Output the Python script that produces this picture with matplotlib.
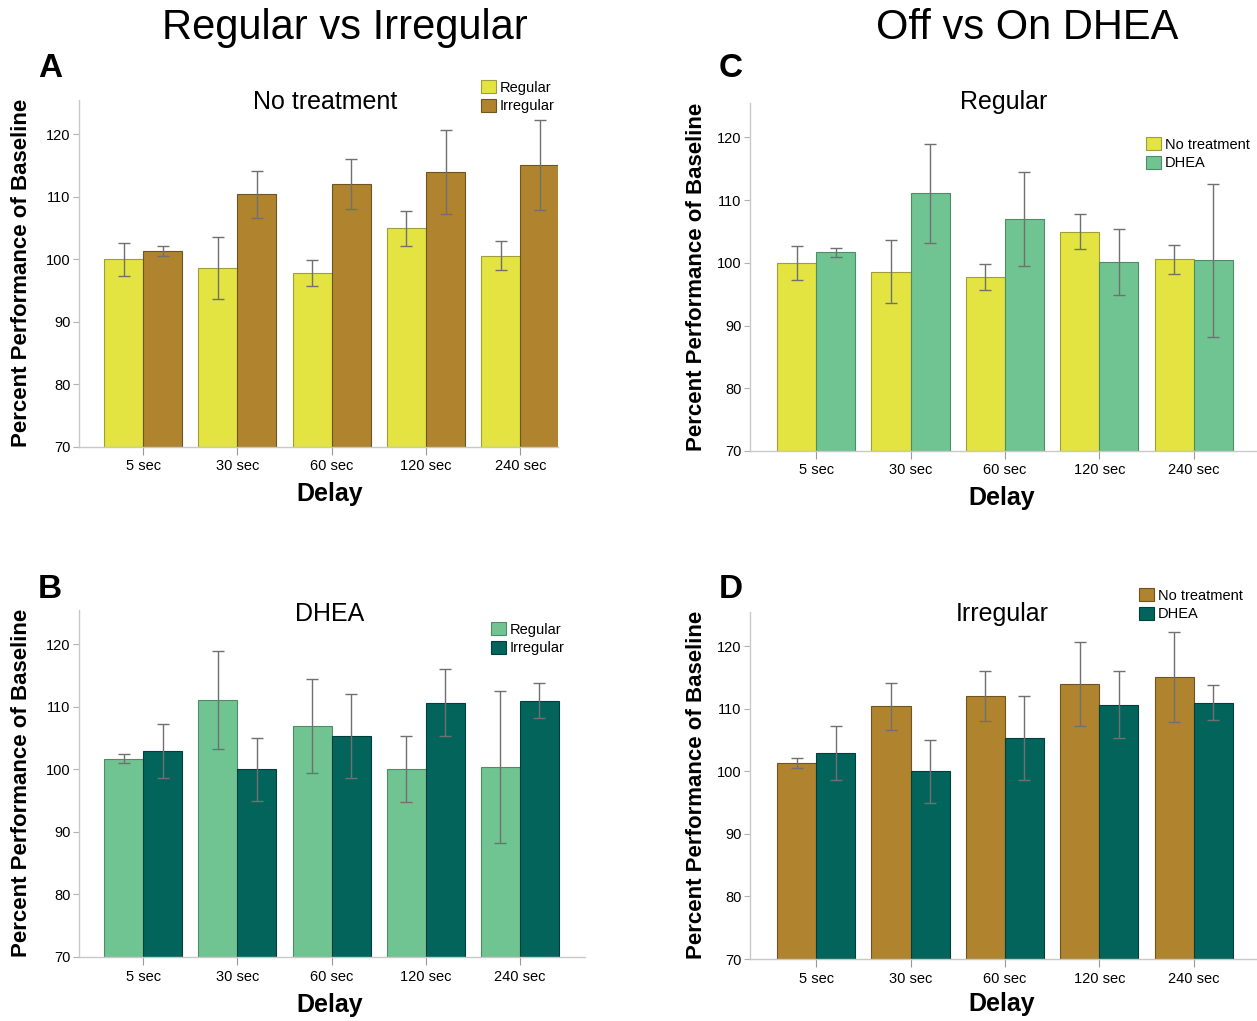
import numpy as np
import matplotlib
matplotlib.use("Agg")
import matplotlib.pyplot as plt

plt.rcParams['font.family'] = ['Liberation Sans', 'DejaVu Sans']

# Delay conditions
delays = ["5 sec", "30 sec", "60 sec", "120 sec", "240 sec"]

# Mean percent performance of baseline and error (SEM) per group
regular_none = [100.0, 98.6, 97.8, 105.0, 100.6]
regular_none_err = [2.7, 5.0, 2.1, 2.8, 2.3]
irregular_none = [101.3, 110.4, 112.0, 114.0, 115.1]
irregular_none_err = [0.8, 3.8, 4.0, 6.7, 7.2]
regular_dhea = [101.7, 111.1, 107.0, 100.1, 100.4]
regular_dhea_err = [0.7, 7.9, 7.5, 5.3, 12.2]
irregular_dhea = [102.9, 100.0, 105.4, 110.7, 111.0]
irregular_dhea_err = [4.3, 5.0, 6.7, 5.3, 2.8]

YELLOW = ("#E3E441", "#9E9E3A")
BROWN = ("#B0842E", "#6E5420")
LGREEN = ("#70C492", "#4E8C66")
TEAL = ("#03645C", "#023F3A")

W, H = 1257, 1021
fig = plt.figure(figsize=(W / 100, H / 100), dpi=100)


def fx(px):
    return px / W


def fy(py):
    return 1 - py / H


def panel(rect, xlim, s1, s2, names, colors, title, title_xy, legend_xy, letter, letter_xy,
          ylabel_xy, xlabel_xy):
    l, r, b, t = rect
    ax = fig.add_axes([fx(l), fy(b), fx(r) - fx(l), fy(t) - fy(b)])
    x = np.arange(len(delays))
    w = 0.414
    for k, ((vals, errs), name, (fc, ec)) in enumerate(zip((s1, s2), names, colors)):
        pos = x - w / 2 if k == 0 else x + w / 2
        ax.bar(pos, np.array(vals) - 70, w, bottom=70, color=fc, edgecolor=ec,
               linewidth=0.8, label=name, zorder=2)
        ax.errorbar(pos, vals, yerr=errs, fmt="none", ecolor="#707070",
                    elinewidth=1.0, capsize=4, capthick=1.0, zorder=3)
    ax.set_xlim(*xlim)
    ax.set_ylim(70, 125.5)
    ax.set_yticks([70, 80, 90, 100, 110, 120])
    ax.set_xticks(x)
    ax.set_xticklabels(delays, fontsize=10.5)
    ax.tick_params(axis="y", labelsize=10.5, length=4, width=0.8, color="#b0b0b0", pad=2)
    ax.tick_params(axis="x", length=6, width=0.8, color="#9a9a9a", pad=3)
    for side in ("top", "right"):
        ax.spines[side].set_visible(False)
    for side in ("left", "bottom"):
        ax.spines[side].set_color("#c8c8c8")
        ax.spines[side].set_linewidth(1.0)
    ax.set_facecolor("none")
    ax.legend(loc="upper left", bbox_to_anchor=(fx(legend_xy[0]), fy(legend_xy[1])),
              bbox_transform=fig.transFigure, frameon=False, fontsize=10.5,
              handlelength=1.0, handleheight=1.0, handletextpad=0.3,
              labelspacing=0.3, borderpad=0, borderaxespad=0)
    fig.text(fx(title_xy[0]), fy(title_xy[1]), title, fontsize=18, ha="center", va="center")
    fig.text(fx(letter_xy[0]), fy(letter_xy[1]), letter, fontsize=24, fontweight="bold",
             ha="center", va="center")
    fig.text(fx(ylabel_xy[0]), fy(ylabel_xy[1]), "Percent Performance of Baseline",
             fontsize=16, fontweight="bold", rotation=90, ha="center", va="center")
    fig.text(fx(xlabel_xy[0]), fy(xlabel_xy[1]), "Delay", fontsize=18, fontweight="bold",
             ha="center", va="center")
    return ax


panel((79, 558, 447, 100), (-0.68, 4.40),
      (regular_none, regular_none_err), (irregular_none, irregular_none_err),
      ("Regular", "Irregular"), (YELLOW, BROWN),
      "No treatment", (325, 102), (481, 80), "A", (50, 68), (22, 273), (330, 494))

panel((79, 585, 957, 610), (-0.68, 4.69),
      (regular_dhea, regular_dhea_err), (irregular_dhea, irregular_dhea_err),
      ("Regular", "Irregular"), (LGREEN, TEAL),
      "DHEA", (330, 614), (491, 622), "B", (50, 590), (22, 783), (330, 1005))

panel((750, 1257, 451, 103), (-0.70, 4.67),
      (regular_none, regular_none_err), (regular_dhea, regular_dhea_err),
      ("No treatment", "DHEA"), (YELLOW, LGREEN),
      "Regular", (1004, 102), (1146, 137), "C", (731, 68), (697, 277), (1002, 498))

panel((750, 1257, 959, 612), (-0.70, 4.67),
      (irregular_none, irregular_none_err), (irregular_dhea, irregular_dhea_err),
      ("No treatment", "DHEA"), (BROWN, TEAL),
      "Irregular", (1002, 614), (1139, 588), "D", (731, 590), (697, 785), (1002, 1004))

fig.text(fx(345), fy(28), "Regular vs Irregular", fontsize=30, ha="center", va="center")
fig.text(fx(1027), fy(28), "Off vs On DHEA", fontsize=30, ha="center", va="center")

fig.savefig("out.png", dpi=100)
